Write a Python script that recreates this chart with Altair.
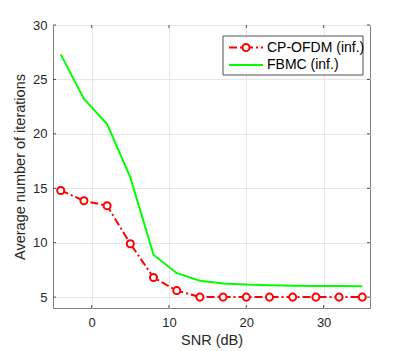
import altair as alt
import pandas as pd

snr = [-4, -1, 2, 5, 8, 11, 14, 17, 20, 23, 26, 29, 32, 35]
cp_ofdm = [14.8, 13.85, 13.4, 9.9, 6.8, 5.6, 5.0, 5.0, 5.0, 5.0, 5.0, 5.0, 5.0, 5.0]
fbmc = [27.3, 23.2, 20.9, 16.0, 8.9, 7.2, 6.5, 6.25, 6.15, 6.1, 6.05, 6.03, 6.02, 6.0]

x_ticks = [0, 10, 20, 30]
y_ticks = [5, 10, 15, 20, 25, 30]
series_names = ["CP-OFDM (inf.)", "FBMC (inf.)"]

df = pd.DataFrame({"snr": snr, "cp": cp_ofdm, "fbmc": fbmc})

W, H = 317, 283
FONT = "Liberation Sans"
TXT = "#262626"

xs = alt.Scale(domain=[-5, 36], nice=False, zero=False)
ys = alt.Scale(domain=[4, 30], nice=False, zero=False)

xaxis = alt.Axis(values=x_ticks, title="SNR (dB)", grid=True, gridColor="#e6e6e6",
                 ticks=False, domain=False, labelFont=FONT, labelFontSize=13,
                 labelColor=TXT, labelPadding=8, titleFont=FONT, titleFontSize=14.5,
                 titleFontWeight="normal", titleColor=TXT, titlePadding=4)
yaxis = alt.Axis(values=y_ticks, title="Average number of iterations", grid=True,
                 gridColor="#e6e6e6", ticks=False, domain=False, labelFont=FONT,
                 labelFontSize=13, labelColor=TXT, labelPadding=6, titleFont=FONT,
                 titleFontSize=14.5, titleFontWeight="normal", titleColor=TXT, titlePadding=5)

base = alt.Chart(df)

fb_line = base.mark_line(color="#00ff00", strokeWidth=2).encode(
    x=alt.X("snr:Q", scale=xs, axis=xaxis),
    y=alt.Y("fbmc:Q", scale=ys, axis=yaxis),
)
cp_line = base.mark_line(color="#ff0000", strokeWidth=2, strokeDash=[8, 3, 2, 3]).encode(
    x=alt.X("snr:Q", scale=xs),
    y=alt.Y("cp:Q", scale=ys),
)
cp_pts = base.mark_point(shape="circle", size=50, filled=False, color="#ff0000",
                         strokeWidth=2, fill="white", fillOpacity=1).encode(
    x=alt.X("snr:Q", scale=xs),
    y=alt.Y("cp:Q", scale=ys),
)

# inward ticks
tick_df_x = pd.DataFrame({"t": x_ticks})
tick_df_y = pd.DataFrame({"t": y_ticks})
xt_bot = alt.Chart(tick_df_x).mark_rule(color=TXT, strokeWidth=0.8).encode(
    x=alt.X("t:Q", scale=xs), y=alt.value(H), y2=alt.value(H - 3))
xt_top = alt.Chart(tick_df_x).mark_rule(color=TXT, strokeWidth=0.8).encode(
    x=alt.X("t:Q", scale=xs), y=alt.value(0), y2=alt.value(3))
yt_l = alt.Chart(tick_df_y).mark_rule(color=TXT, strokeWidth=0.8).encode(
    y=alt.Y("t:Q", scale=ys), x=alt.value(0), x2=alt.value(3))
yt_r = alt.Chart(tick_df_y).mark_rule(color=TXT, strokeWidth=0.8).encode(
    y=alt.Y("t:Q", scale=ys), x=alt.value(W), x2=alt.value(W - 3))

# legend
leg_df = pd.DataFrame({"k": [0]})
leg_box = alt.Chart(leg_df).mark_rect(fill="white", stroke=TXT, strokeWidth=0.8).encode(
    x=alt.value(170), x2=alt.value(310), y=alt.value(11), y2=alt.value(50))
leg_l1 = alt.Chart(leg_df).mark_rule(color="#ff0000", strokeWidth=2, strokeDash=[8, 3, 2, 3]).encode(
    x=alt.value(176), x2=alt.value(210), y=alt.value(22.5))
leg_p1 = alt.Chart(leg_df).mark_point(shape="circle", size=50, filled=False, color="#ff0000",
                                      strokeWidth=2, fill="white", fillOpacity=1).encode(
    x=alt.value(193), y=alt.value(22.5))
leg_l2 = alt.Chart(leg_df).mark_rule(color="#00ff00", strokeWidth=2).encode(
    x=alt.value(176), x2=alt.value(210), y=alt.value(40))
leg_t1 = alt.Chart(leg_df).mark_text(align="left", baseline="middle", font=FONT,
                                     fontSize=14, color="black").encode(
    x=alt.value(214), y=alt.value(22.5), text=alt.value(series_names[0]))
leg_t2 = alt.Chart(leg_df).mark_text(align="left", baseline="middle", font=FONT,
                                     fontSize=14, color="black").encode(
    x=alt.value(214), y=alt.value(40), text=alt.value(series_names[1]))

chart = alt.layer(
    fb_line, cp_line, cp_pts, xt_bot, xt_top, yt_l, yt_r,
    leg_box, leg_l1, leg_p1, leg_l2, leg_t1, leg_t2,
).properties(
    width=W, height=H,
    autosize=alt.AutoSizeParams(type="none"),
    padding={"left": 45, "top": 17, "right": 30, "bottom": 40},
).configure_view(stroke="#808080", strokeWidth=1)

chart.save("out.html", embed_options={"renderer": "svg", "actions": False})
